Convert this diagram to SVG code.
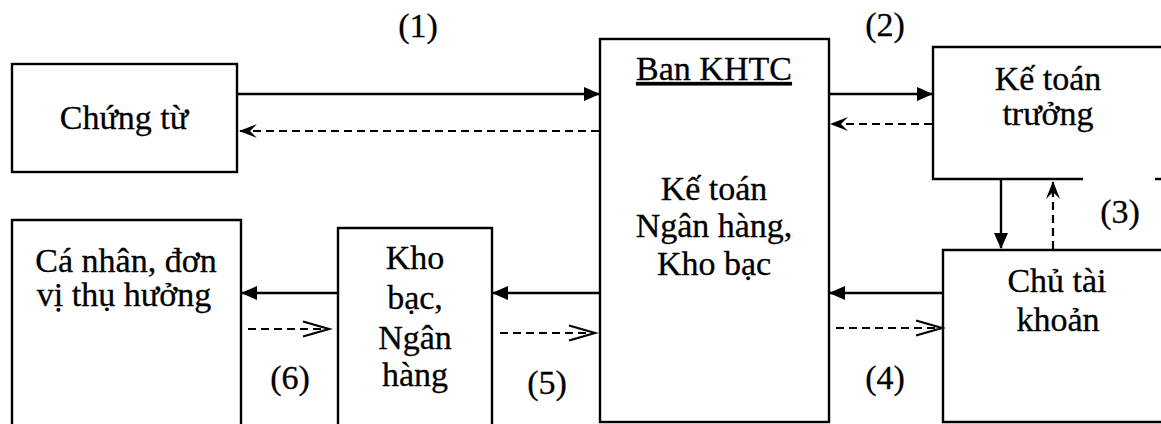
<svg xmlns="http://www.w3.org/2000/svg" width="1161" height="424" viewBox="0 0 1161 424">
<style>
  .box{fill:none;stroke:#000;stroke-width:2.4}
  .t{font-family:'Liberation Serif','DejaVu Serif',serif;font-size:34px;fill:#000;text-anchor:middle;stroke:#000;stroke-width:0.3}
  .s{fill:none;stroke:#000;stroke-width:2.4}
  .d{fill:none;stroke:#000;stroke-width:2.2;stroke-dasharray:8 5}
</style>
<defs>
  <marker id="tri" viewBox="0 0 16 14" refX="15" refY="7" markerWidth="16" markerHeight="14" markerUnits="userSpaceOnUse" orient="auto">
    <path d="M0,0 L16,7 L0,14 Z" fill="#000"/>
  </marker>
  <marker id="stealth" viewBox="0 0 18 14" refX="17" refY="7" markerWidth="18" markerHeight="14" markerUnits="userSpaceOnUse" orient="auto">
    <path d="M0,0 L18,7 L0,14 L7,7 Z" fill="#000"/>
  </marker>
  <marker id="chev" viewBox="-1 -1 29 17" refX="26" refY="7.5" markerWidth="29" markerHeight="17" markerUnits="userSpaceOnUse" orient="auto" overflow="visible">
    <path d="M0,0 L26,7.5 L0,15" fill="none" stroke="#000" stroke-width="2.2"/>
  </marker>
</defs>
<rect width="1161" height="424" fill="#fff"/>

<g id="chung-tu">
  <rect class="box" x="12" y="64" width="225" height="108"/>
  <text class="t" x="124" y="129" font-family="Liberation Serif, serif">Chứng từ</text>
</g>

<g id="ban-khtc">
  <rect class="box" x="600" y="39" width="229" height="383"/>
  <text class="t" x="714" y="80" text-decoration="underline">Ban KHTC</text>
  <text class="t" x="714" y="200">Kế toán</text>
  <text class="t" x="714" y="237">Ngân hàng,</text>
  <text class="t" x="714" y="275">Kho bạc</text>
</g>

<g id="ke-toan-truong">
  <path class="box" d="M1163,47 H933 V179 H1083 M1155,179 H1163"/>
  <text class="t" x="1048" y="90">Kế toán</text>
  <text class="t" x="1048" y="125">trưởng</text>
</g>

<g id="chu-tai-khoan">
  <path class="box" d="M1163,250 H943 V422 H1163"/>
  <text class="t" x="1057" y="292">Chủ tài</text>
  <text class="t" x="1058" y="331">khoản</text>
</g>

<g id="kho-bac">
  <path class="box" d="M338,428 V228 H492 V428"/>
  <text class="t" x="415" y="269">Kho</text>
  <text class="t" x="415" y="309">bạc,</text>
  <text class="t" x="415" y="349">Ngân</text>
  <text class="t" x="415" y="386">hàng</text>
</g>

<g id="ca-nhan">
  <path class="box" d="M12,428 V220 H241 V428"/>
  <text class="t" x="126" y="272">Cá nhân, đơn</text>
  <text class="t" x="124" y="306">vị thụ hưởng</text>
</g>

<g id="connectors">
  <line class="s" x1="237" y1="94" x2="599" y2="94" marker-end="url(#tri)"/>
  <line class="d" x1="599" y1="131" x2="240" y2="131" marker-end="url(#stealth)"/>
  <line class="s" x1="829" y1="94" x2="932" y2="94" marker-end="url(#tri)"/>
  <line class="d" x1="932" y1="124" x2="831" y2="124" marker-end="url(#stealth)"/>
  <line class="s" x1="1001" y1="179" x2="1001" y2="248" marker-end="url(#tri)"/>
  <line class="d" x1="1053" y1="249" x2="1053" y2="182" marker-end="url(#stealth)"/>
  <line class="s" x1="943" y1="293" x2="830" y2="293" marker-end="url(#tri)"/>
  <line class="d" x1="836" y1="328" x2="942" y2="328" marker-end="url(#chev)"/>
  <line class="s" x1="600" y1="293" x2="493" y2="293" marker-end="url(#tri)"/>
  <line class="d" x1="500" y1="333" x2="595" y2="333" marker-end="url(#chev)"/>
  <line class="s" x1="338" y1="293" x2="242" y2="293" marker-end="url(#tri)"/>
  <line class="d" x1="248" y1="329" x2="329" y2="329" marker-end="url(#chev)"/>
</g>

<g id="labels">
  <text class="t" x="418" y="37">(1)</text>
  <text class="t" x="885" y="36">(2)</text>
  <text class="t" x="1120" y="223">(3)</text>
  <text class="t" x="885" y="389">(4)</text>
  <text class="t" x="547" y="394">(5)</text>
  <text class="t" x="290" y="389">(6)</text>
</g>
</svg>
